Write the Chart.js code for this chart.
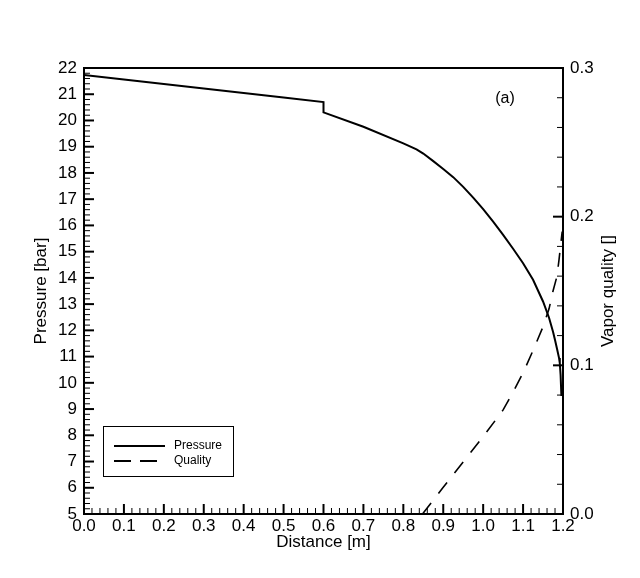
<!DOCTYPE html>
<html><head><meta charset="utf-8">
<script src="https://cdn.jsdelivr.net/npm/chart.js@4.4.0/dist/chart.umd.min.js"></script>
<style>html,body{margin:0;padding:0;background:#fff}canvas{display:block}</style>
</head><body>
<canvas id="c" width="640" height="578"></canvas>
<script>
// ---- data ----
const pressureDistance = [0, 0.1, 0.2, 0.3, 0.4, 0.5, 0.6, 0.6, 0.7, 0.8, 0.833, 0.85, 0.875, 0.9, 0.925, 0.95, 0.975, 1.0, 1.025, 1.05, 1.075, 1.1, 1.125, 1.15, 1.165, 1.175, 1.18, 1.185, 1.19, 1.192, 1.194, 1.195, 1.196];
const pressureValues   = [21.73, 21.56, 21.39, 21.22, 21.05, 20.88, 20.70, 20.31, 19.76, 19.13, 18.90, 18.74, 18.45, 18.15, 17.84, 17.47, 17.06, 16.62, 16.14, 15.64, 15.11, 14.56, 13.93, 13.10, 12.48, 11.95, 11.63, 11.30, 10.95, 10.75, 10.30, 9.90, 9.50];
const qualityDistance  = [0.848, 0.9, 0.95, 1.0, 1.05, 1.075, 1.1, 1.125, 1.15, 1.165, 1.175, 1.185, 1.19, 1.195, 1.198];
const qualityValues    = [0.0, 0.018, 0.035, 0.052, 0.070, 0.082, 0.095, 0.110, 0.126, 0.138, 0.150, 0.160, 0.171, 0.183, 0.190];
const seriesNames = ['Pressure', 'Quality'];
const xTitle = 'Distance [m]';
const yTitle = 'Pressure [bar]';
const y2Title = 'Vapor quality []';
const panelLabel = '(a)';

const FONT = "'Liberation Sans', Arial, Helvetica, sans-serif";
Chart.defaults.font.family = FONT;
Chart.defaults.color = '#000';

const toXY = (xs, ys) => xs.map((v, i) => ({x: v, y: ys[i]}));

const decor = {
  id: 'decor',
  afterDraw(chart) {
    const {ctx, chartArea: a, scales: {x, y, y2}} = chart;
    ctx.save();
    ctx.strokeStyle = '#000';
    ctx.fillStyle = '#000';
    // top frame line
    ctx.lineWidth = 2;
    ctx.beginPath(); ctx.moveTo(a.left - 1, a.top); ctx.lineTo(a.right + 1, a.top); ctx.stroke();
    // inward ticks
    const seg = (x1, y1, x2, y2_, w) => { ctx.lineWidth = w; ctx.beginPath(); ctx.moveTo(x1, y1); ctx.lineTo(x2, y2_); ctx.stroke(); };
    for (let i = 1; i < 60; i++) {
      const px = x.getPixelForValue(i * 0.02);
      const major = i % 5 === 0;
      seg(px, a.bottom, px, a.bottom - (major ? 10 : 6), major ? 2 : 1);
    }
    for (let i = 1; i < 85; i++) {
      const py = y.getPixelForValue(5 + i * 0.2);
      const major = i % 5 === 0;
      seg(a.left, py, a.left + (major ? 10 : 6), py, major ? 2 : 1);
    }
    for (let i = 1; i < 15; i++) {
      const py = y2.getPixelForValue(i * 0.02);
      const major = i % 5 === 0;
      seg(a.right, py, a.right - (major ? 10 : 6), py, major ? 2 : 1);
    }
    // axis titles
    ctx.font = '17px ' + FONT;
    ctx.textAlign = 'center';
    ctx.textBaseline = 'middle';
    ctx.fillText(xTitle, (a.left + a.right) / 2, 542);
    ctx.save();
    ctx.translate(41, (a.top + a.bottom) / 2);
    ctx.rotate(-Math.PI / 2);
    ctx.fillText(yTitle, 0, 0);
    ctx.restore();
    ctx.save();
    ctx.translate(608, (a.top + a.bottom) / 2);
    ctx.rotate(-Math.PI / 2);
    ctx.fillText(y2Title, 0, 0);
    ctx.restore();
    // panel label
    ctx.font = '16px ' + FONT;
    ctx.fillText(panelLabel, 505, 99);
    // legend
    ctx.lineWidth = 1;
    ctx.strokeRect(103.5, 426.5, 130, 50);
    ctx.lineWidth = 2;
    ctx.setLineDash([]);
    ctx.beginPath(); ctx.moveTo(114, 446); ctx.lineTo(165, 446); ctx.stroke();
    ctx.setLineDash([17, 9]);
    ctx.beginPath(); ctx.moveTo(114, 461); ctx.lineTo(165, 461); ctx.stroke();
    ctx.setLineDash([]);
    ctx.font = '12px ' + FONT;
    ctx.textAlign = 'left';
    ctx.fillText(seriesNames[0], 174, 446);
    ctx.fillText(seriesNames[1], 174, 461);
    ctx.restore();
  }
};

new Chart(document.getElementById('c'), {
  type: 'line',
  data: {
    datasets: [
      {label: seriesNames[0], data: toXY(pressureDistance, pressureValues), yAxisID: 'y',
       borderColor: '#000', borderWidth: 2, pointRadius: 0, tension: 0, fill: false},
      {label: seriesNames[1], data: toXY(qualityDistance, qualityValues), yAxisID: 'y2',
       borderColor: '#000', borderWidth: 1.6, borderDash: [14, 12], pointRadius: 0, tension: 0, fill: false}
    ]
  },
  options: {
    responsive: false,
    animation: false,
    devicePixelRatio: 1,
    layout: {padding: {top: 68, left: 0, right: 0, bottom: 0}},
    plugins: {legend: {display: false}, tooltip: {enabled: false}},
    scales: {
      x: {type: 'linear', min: 0, max: 1.2,
          ticks: {stepSize: 0.1, autoSkip: false, maxRotation: 0, padding: 2, color: '#000', font: {size: 17},
                  callback: v => Number(v).toFixed(1)},
          grid: {display: false, drawTicks: false},
          border: {display: true, color: '#000', width: 2},
          afterFit: s => { s.height = 64; }},
      y: {type: 'linear', position: 'left', min: 5, max: 22,
          ticks: {stepSize: 1, autoSkip: false, padding: 7, color: '#000', font: {size: 17},
                  callback: v => String(Math.round(v))},
          grid: {display: false, drawTicks: false},
          border: {display: true, color: '#000', width: 2},
          afterFit: s => { s.width = 84; }},
      y2: {type: 'linear', position: 'right', min: 0, max: 0.3,
          ticks: {stepSize: 0.1, autoSkip: false, padding: 7, color: '#000', font: {size: 17},
                  callback: v => Number(v).toFixed(1)},
          grid: {display: false, drawTicks: false},
          border: {display: true, color: '#000', width: 2},
          afterFit: s => { s.width = 77; }}
    }
  },
  plugins: [decor]
});
</script>
</body></html>
